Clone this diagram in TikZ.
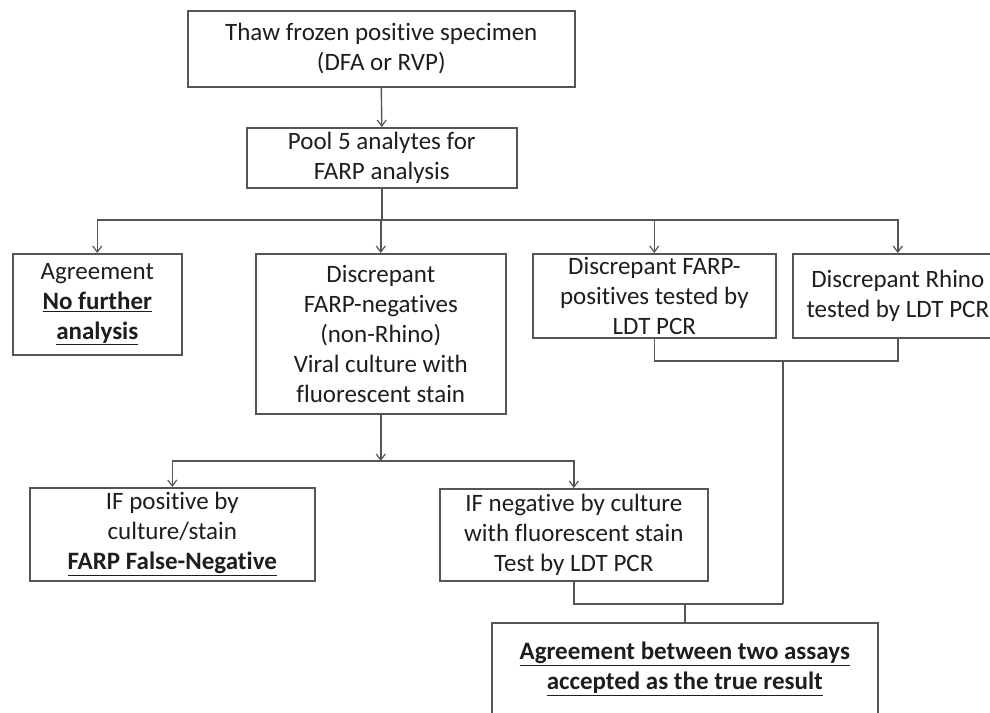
\documentclass[tikz,border=0pt]{standalone}
\usepackage{fontspec}
\setmainfont{Carlito}[Ligatures=NoCommon]
\usetikzlibrary{arrows.meta}
\definecolor{linec}{HTML}{555555}
\definecolor{textc}{HTML}{1E1E1E}
\begin{document}
\begin{tikzpicture}[x=1pt,y=-1pt,
  box/.style={draw=linec, line width=1.6pt, align=center, inner sep=0pt,
    text=textc, font=\fontsize{25}{30}\selectfont, anchor=north west},
  conn/.style={draw=linec, line width=1.4pt},
  arr/.style={conn, -{Straight Barb[length=6pt,width=9pt,line width=1.2pt]}}]
\clip (0,0) rectangle (990,712);
\fill[white] (0,0) rectangle (990,712);

\node[box, minimum width=387, minimum height=76] (thaw) at (187,10)
  {Thaw frozen positive specimen\\(DFA or RVP)};
\node[box, minimum width=270, minimum height=60] (pool) at (246,127)
  {Pool 5 analytes for\\FARP analysis};
\node[box, minimum width=169, minimum height=101] (agree) at (12,253)
  {Agreement\\\underline{\textbf{No further}}\\\underline{\textbf{analysis}}};
\node[box, minimum width=250, minimum height=160] (disc) at (255,253)
  {Discrepant\\FARP-negatives\\(non-Rhino)\\Viral culture with\\fluorescent stain};
\node[box, minimum width=243, minimum height=84] (fpos) at (532,253)
  {Discrepant FARP-\\positives tested by\\LDT PCR};
\node[box, minimum width=210, minimum height=84] (rhino) at (792,253)
  {Discrepant Rhino\\tested by LDT PCR};
\node[box, minimum width=285, minimum height=93] (ifpos) at (29,487)
  {IF positive by\\culture/stain\\\underline{\textbf{FARP False-Negative}}};
\node[box, minimum width=268, minimum height=92] (ifneg) at (439,488)
  {IF negative by culture\\with fluorescent stain\\Test by LDT PCR};
\node[box, minimum width=386, minimum height=92] (final) at (491,622)
  {\underline{\textbf{Agreement between two assays}}\\\underline{\textbf{accepted as the true result}}};

% top connections
\draw[arr] (thaw.south) -- (pool.north);
\coordinate (bus1) at (pool.south |- 0,220);
\draw[conn] (pool.south) -- (bus1);
\draw[arr] (bus1) -| (agree.north);
\draw[arr] (bus1) -| (disc.north);
\draw[arr] (bus1) -| (fpos.north);
\draw[arr] (bus1) -| (rhino.north);

% second level
\coordinate (bus2) at (disc.south |- 0,461);
\draw[arr] (disc.south) -- (bus2);
\draw[arr] (bus2) -| (ifpos.north);
\draw[arr] (bus2) -| (ifneg.north);

% right merge
\coordinate (m1) at (783,361);
\coordinate (m2) at (783,604);
\draw[conn] (fpos.south) |- (m1) -| (rhino.south);
\draw[conn] (m1) -- (m2);
\draw[conn] (ifneg.south) |- (m2);
\coordinate (m3) at (final.north |- m2);
\draw[conn] (m3) -- (final.north);
\end{tikzpicture}
\end{document}
